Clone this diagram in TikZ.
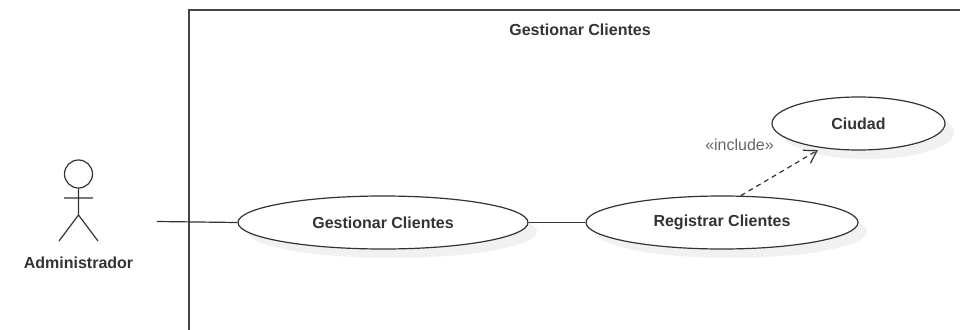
\documentclass[tikz,border=0pt]{standalone}
\usepackage{fontspec}
\setmainfont{Liberation Sans}
\usetikzlibrary{shapes.geometric,arrows.meta,shadows}
\definecolor{linec}{HTML}{333333}
\definecolor{framec}{HTML}{444444}
\definecolor{textc}{HTML}{333333}
\definecolor{labelc}{HTML}{666666}
\definecolor{shadowc}{HTML}{F1F1F1}
\tikzset{
  usecase/.style={ellipse,draw=linec,line width=1.2pt,fill=white,inner sep=0pt,
    minimum height=53pt,text=textc,font=\fontsize{16}{18}\selectfont\bfseries,
    drop shadow={shadow xshift=9pt,shadow yshift=-9pt,fill=shadowc,opacity=1}},
  rel/.style={draw=linec,line width=1.2pt},
  stick/.style={draw=linec,line width=1.2pt},
  frame/.style={draw=framec,line width=1.6pt},
  boldtext/.style={text=textc,inner sep=0pt,font=\fontsize{16}{18}\selectfont\bfseries},
}
\begin{document}
\begin{tikzpicture}[x=1pt,y=-1pt]
\useasboundingbox (0,0) rectangle (960,329);
\draw[frame] (975,10) -- (189,10) -- (189,345);
\node[boldtext] (title) at (580,29.5) {Gestionar Clientes};
% actor
\node[circle,stick,minimum size=28pt,inner sep=0pt] (head) at (78.5,174) {};
\coordinate (hip) at (78.5,215);
\coordinate (armL) at (64,198);
\coordinate (armR) at (93,198);
\coordinate (legL) at (59,241);
\coordinate (legR) at (98,241);
\draw[stick] (head.south) -- (hip) (armL) -- (armR) (legL) -- (hip) -- (legR);
\node[boldtext] (actor) at (78.5,263) {Administrador};
% use cases
\node[usecase,minimum width=290pt] (gc) at (383,222.5) {Gestionar Clientes};
\node[usecase,minimum width=272pt] (rc) at (722,222.5) {Registrar Clientes};
\node[usecase,minimum width=173pt] (cc) at (858.5,123.5) {Ciudad};
% connectors
\coordinate (actorend) at (157,221.5);
\draw[rel] (actorend) -- (gc.west);
\draw[rel] (gc.east) -- (rc.west);
\coordinate (dashend) at ([shift={(-0.5,2.5)}]cc.211.6);
\draw[rel,dashed,dash pattern=on 5pt off 4pt,-{Straight Barb[length=12pt,width=15pt,line width=1.2pt]}] (rc.55) -- (dashend);
\node[text=labelc,inner sep=0pt,font=\fontsize{16}{18}\selectfont] (inc) at (739.5,144.5) {«include»};
\end{tikzpicture}
\end{document}
